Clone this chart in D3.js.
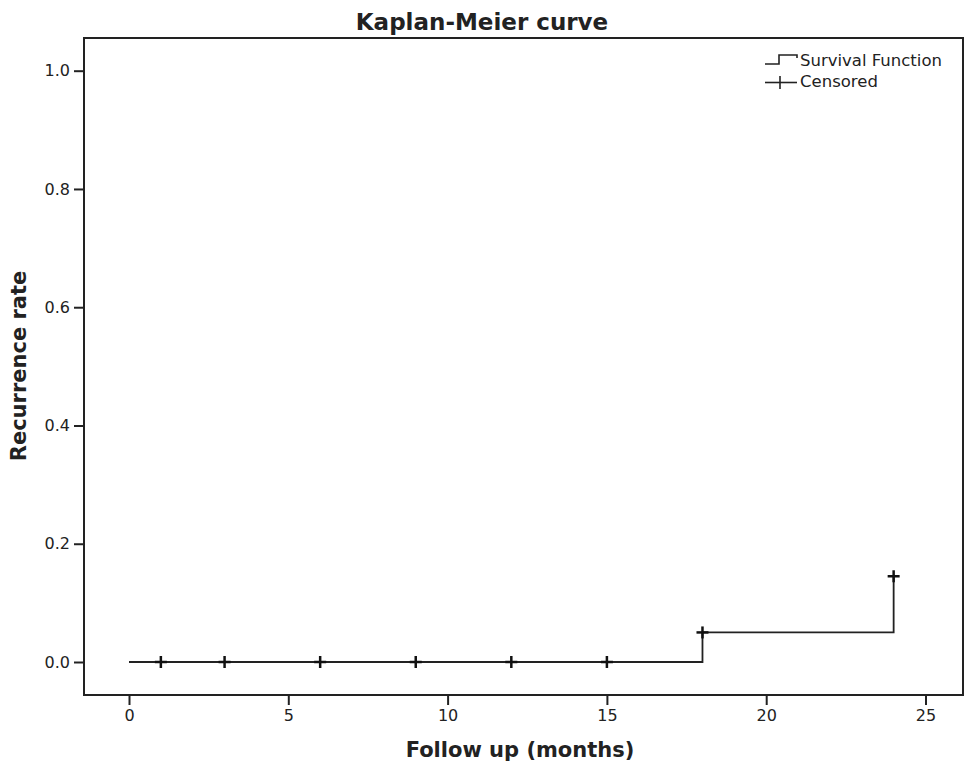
<!DOCTYPE html>
<html>
<head>
<meta charset="utf-8">
<script src="https://cdn.jsdelivr.net/npm/d3@7"></script>
<style>
  body { margin: 0; background: #fff; }
  text { font-family: "DejaVu Sans", sans-serif; fill: #222; }
</style>
</head>
<body>
<svg id="chart"></svg>
<script>
// step curve: time (months) and cumulative recurrence
const stepTimes = [0, 18, 24];
const stepRates = [0, 0.05, 0.145];
const censorTimes = [1, 3, 6, 9, 12, 15, 18, 24];
const censorRates = [0, 0, 0, 0, 0, 0, 0.05, 0.145];
const xTicks = [0, 5, 10, 15, 20, 25];
const yTicks = [0, 0.2, 0.4, 0.6, 0.8, 1.0];

const width = 964, height = 769;
const margin = { top: 38, right: 1, bottom: 74, left: 84 };

const svg = d3.select('#chart').attr('width', width).attr('height', height);

// 0 -> x=129, 25 -> x=925.5 ; 0 -> y=662, 1 -> y=70.7
const x = d3.scaleLinear().domain([0, 25]).range([129, 925.5]);
const y = d3.scaleLinear().domain([0, 1]).range([662, 70.7]);

const x0 = margin.left, x1 = width - margin.right;
const y0 = margin.top, y1 = height - margin.bottom;

// frame
svg.append('rect')
  .attr('x', x0).attr('y', y0)
  .attr('width', x1 - x0).attr('height', y1 - y0)
  .attr('fill', 'none').attr('stroke', '#222').attr('stroke-width', 2);

// axes
const xAxis = svg.append('g')
  .attr('transform', `translate(0,${y1})`)
  .call(d3.axisBottom(x).tickValues(xTicks).tickSize(10).tickPadding(5).tickFormat(d3.format('d')));
const yAxis = svg.append('g')
  .attr('transform', `translate(${x0},0)`)
  .call(d3.axisLeft(y).tickValues(yTicks).tickSize(10).tickPadding(4).tickFormat(d3.format('.1f')));

[xAxis, yAxis].forEach(g => {
  g.select('.domain').remove();
  g.selectAll('.tick line').attr('stroke', '#222').attr('stroke-width', 2);
  g.selectAll('.tick text').attr('fill', '#333').style('font-size', '16px')
    .style('font-family', '"DejaVu Sans", sans-serif');
});

// step line
const pts = stepTimes.map((t, i) => [t, stepRates[i]]);
pts.push([24, stepRates[stepRates.length - 1]]);
const line = d3.line().x(d => x(d[0])).y(d => y(d[1])).curve(d3.curveStepAfter);
svg.append('path')
  .datum(pts)
  .attr('d', line)
  .attr('fill', 'none')
  .attr('stroke', '#222')
  .attr('stroke-width', 1.8);

// censor marks
const cs = 6;
const marks = svg.append('g').attr('stroke', '#111').attr('stroke-width', 2.5);
censorTimes.forEach((t, i) => {
  const cx = x(t), cy = y(censorRates[i]);
  marks.append('line').attr('x1', cx - cs).attr('x2', cx + cs).attr('y1', cy).attr('y2', cy);
  marks.append('line').attr('x1', cx).attr('x2', cx).attr('y1', cy - cs).attr('y2', cy + cs);
});

// title and axis labels
svg.append('text')
  .attr('x', 482).attr('y', 30)
  .attr('text-anchor', 'middle')
  .style('font-size', '23px').style('font-weight', 'bold')
  .text('Kaplan-Meier curve');

svg.append('text')
  .attr('x', 520).attr('y', 757)
  .attr('text-anchor', 'middle')
  .style('font-size', '21px').style('font-weight', 'bold')
  .text('Follow up (months)');

svg.append('text')
  .attr('transform', 'translate(26,366) rotate(-90)')
  .attr('text-anchor', 'middle')
  .style('font-size', '21px').style('font-weight', 'bold')
  .text('Recurrence rate');

// legend
const lg = svg.append('g');
lg.append('path')
  .attr('d', 'M765,64 H779 V55 H797 V58')
  .attr('fill', 'none').attr('stroke', '#222').attr('stroke-width', 1.6);
lg.append('text').attr('x', 800).attr('y', 66).style('font-size', '16.5px').text('Survival Function');
lg.append('line').attr('x1', 765).attr('x2', 797).attr('y1', 82.5).attr('y2', 82.5)
  .attr('stroke', '#222').attr('stroke-width', 1.6);
lg.append('line').attr('x1', 780).attr('x2', 780).attr('y1', 76).attr('y2', 89)
  .attr('stroke', '#222').attr('stroke-width', 1.6);
lg.append('text').attr('x', 800).attr('y', 87).style('font-size', '16.5px').text('Censored');
</script>
</body>
</html>
